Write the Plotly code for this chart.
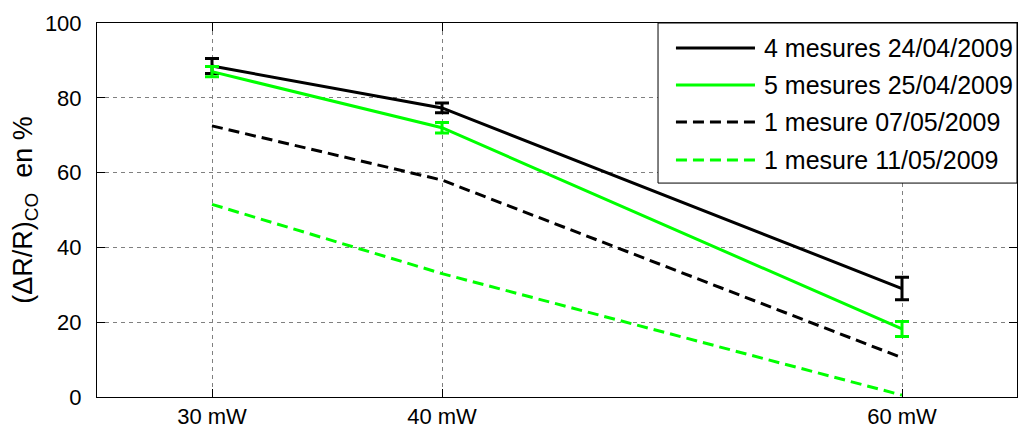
import plotly.graph_objects as go

power = [30, 40, 60]
tick_labels = ["30 mW", "40 mW", "60 mW"]

s1_name = "4 mesures 24/04/2009"
s1_vals = [88.5, 77.3, 29.0]
s1_err = [2.0, 1.3, 3.0]

s2_name = "5 mesures 25/04/2009"
s2_vals = [87.0, 72.0, 18.2]
s2_err = [1.4, 1.4, 2.0]

s3_name = "1 mesure 07/05/2009"
s3_vals = [72.5, 58.0, 10.5]

s4_name = "1 mesure 11/05/2009"
s4_vals = [51.5, 33.0, 0.5]

BLACK = "#000000"
GREEN = "#00ff00"
DASH = "11px,6px"
FONT = "Liberation Sans, Arial, sans-serif"

series = [
    (s1_name, s1_vals, s1_err, BLACK, "solid"),
    (s2_name, s2_vals, s2_err, GREEN, "solid"),
    (s3_name, s3_vals, None, BLACK, DASH),
    (s4_name, s4_vals, None, GREEN, DASH),
]

fig = go.Figure()
for name, vals, err, col, dash in series:
    kw = {}
    if err is not None:
        kw["error_y"] = dict(type="data", array=err, color=col, thickness=3, width=7)
    fig.add_trace(go.Scatter(x=power, y=vals, name=name, mode="lines",
                             line=dict(color=col, width=3, dash=dash),
                             showlegend=False, **kw))

# manual legend (MATLAB style, long line samples)
fig.add_shape(type="rect", xref="paper", yref="paper", x0=0.6098, x1=1.0, y0=0.572, y1=1.0,
              line=dict(color="black", width=1), fillcolor="white", layer="above")
row_y = [0.9332, 0.8342, 0.7353, 0.6337]
for (name, vals, err, col, dash), yy in zip(series, row_y):
    fig.add_shape(type="line", xref="paper", yref="paper", x0=0.6293, x1=0.7152, y0=yy, y1=yy,
                  line=dict(color=col, width=3, dash=dash), layer="above")
    fig.add_annotation(xref="paper", yref="paper", x=0.7261, y=yy, text=name, showarrow=False,
                       xanchor="left", yanchor="middle", xshift=-3,
                       font=dict(size=25, color="black", family=FONT))

fig.update_layout(
    width=1023, height=430,
    margin=dict(l=97, r=6, t=23, b=33, autoexpand=False),
    paper_bgcolor="white", plot_bgcolor="white",
    font=dict(family=FONT, color="black", size=22),
    showlegend=False,
)
fig.update_xaxes(range=[25, 65], tickvals=power, ticktext=tick_labels, automargin=False,
                 showgrid=True, gridcolor="#808080", griddash="4px,4px", gridwidth=1,
                 showline=True, linecolor="black", linewidth=1, mirror="ticks",
                 ticks="inside", ticklen=8, tickcolor="black", zeroline=False,
                 tickfont=dict(size=22), ticklabelstandoff=0)
fig.update_yaxes(range=[0, 100], tickvals=[0, 20, 40, 60, 80, 100], automargin=False,
                 showgrid=True, gridcolor="#808080", griddash="4px,4px", gridwidth=1,
                 showline=True, linecolor="black", linewidth=1, mirror="ticks",
                 ticks="inside", ticklen=8, tickcolor="black", zeroline=False,
                 tickfont=dict(size=22), ticklabelstandoff=10,
                 title=dict(text="(ΔR/R)<sub>CO</sub>  en %", font=dict(size=27), standoff=4))

fig.write_html("out.html", config={"displayModeBar": False},
               post_script="document.body.style.margin='0';")
